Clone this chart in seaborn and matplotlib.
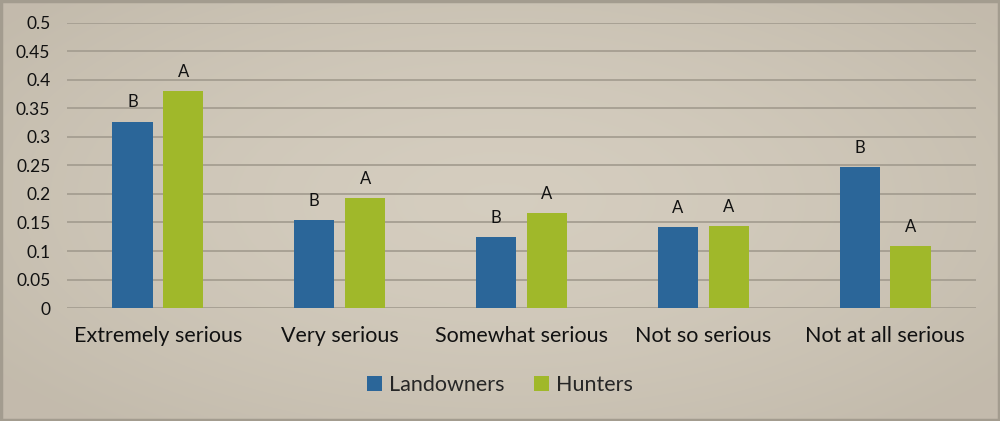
import numpy as np
import pandas as pd
import matplotlib
matplotlib.use("Agg")
import matplotlib.pyplot as plt
import seaborn as sns

categories = ["Extremely serious", "Very serious", "Somewhat serious", "Not so serious", "Not at all serious"]
series = ["Landowners", "Hunters"]
landowners = [0.327, 0.154, 0.125, 0.142, 0.247]
hunters = [0.381, 0.193, 0.167, 0.143, 0.109]
landowner_letters = ["B", "B", "B", "A", "B"]
hunter_letters = ["A", "A", "A", "A", "A"]
yticks = [0, 0.05, 0.1, 0.15, 0.2, 0.25, 0.3, 0.35, 0.4, 0.45, 0.5]
ytick_labels = ["0", "0.05", "0.1", "0.15", "0.2", "0.25", "0.3", "0.35", "0.4", "0.45", "0.5"]

df = pd.DataFrame({
    "category": categories * 2,
    "group": [series[0]] * len(categories) + [series[1]] * len(categories),
    "value": landowners + hunters,
})

sns.set_theme(style="white")
plt.rcParams["font.family"] = ["Lato", "DejaVu Sans"]

fig = plt.figure(figsize=(10, 4.21), dpi=100)

# background gradient
bg = fig.add_axes([0, 0, 1, 1], zorder=-10)
yy, xx = np.mgrid[0:421, 0:1000]
dx = (xx - 500) / 520.0
dy = (yy - 200) / 240.0
r = np.clip(np.sqrt(dx**2 + dy**2), 0, 1.2)
light = np.array([0.835, 0.805, 0.750])
dark = np.array([0.765, 0.733, 0.675])
t = (r / 1.2)[..., None] ** 1.5
img = light * (1 - t) + dark * t
bg.imshow(img, aspect="auto", extent=[0, 1, 0, 1])
bg.set_axis_off()
# border
fig.patches.append(plt.Rectangle((0.001, 0.002), 0.998, 0.996, transform=fig.transFigure,
                                 fill=False, edgecolor="#a39c8f", linewidth=2.5))

ax = fig.add_axes([0.067, 0.2684, 0.909, 0.677])
ax.patch.set_alpha(0)
palette = {"Landowners": "#2b6699", "Hunters": "#a0b82a"}
sns.barplot(data=df, x="category", y="value", hue="group", order=categories,
            hue_order=series, palette=palette, width=0.56, gap=0.21,
            saturation=1, ax=ax, legend=True, linewidth=0, edgecolor="none")

ax.set_ylim(0, 0.5)
ax.set_xlim(-0.5, len(categories) - 0.5)
ax.set_yticks(yticks)
ax.set_yticklabels(ytick_labels, fontsize=12.5, color="#111111")
ax.yaxis.grid(True, color="#a8a194", linewidth=1.4)
ax.set_axisbelow(True)
ax.tick_params(axis="x", labelsize=15.5, colors="#111111", pad=13, length=0)
ax.tick_params(axis="y", length=0, pad=12)
ax.set_xlabel("")
ax.set_ylabel("")
for s in ax.spines.values():
    s.set_visible(False)

letters = {series[0]: landowner_letters, series[1]: hunter_letters}
for container, name in zip(ax.containers, series):
    for bar, lab in zip(container, letters[name]):
        ax.annotate(lab, (bar.get_x() + bar.get_width() / 2, bar.get_height()),
                    xytext=(0, 8), textcoords="offset points", ha="center", va="bottom",
                    fontsize=12, color="#111111")

h, l = ax.get_legend_handles_labels()
ax.legend_.remove()
leg = fig.legend(h, l, loc="center", bbox_to_anchor=(0.5, 0.085), ncol=2, frameon=False,
                 fontsize=15.5, handlelength=0.7, handleheight=0.7, handletextpad=0.3,
                 columnspacing=1.4)
for p in leg.get_patches():
    p.set_edgecolor("none")

fig.savefig("out.png", dpi=100)
